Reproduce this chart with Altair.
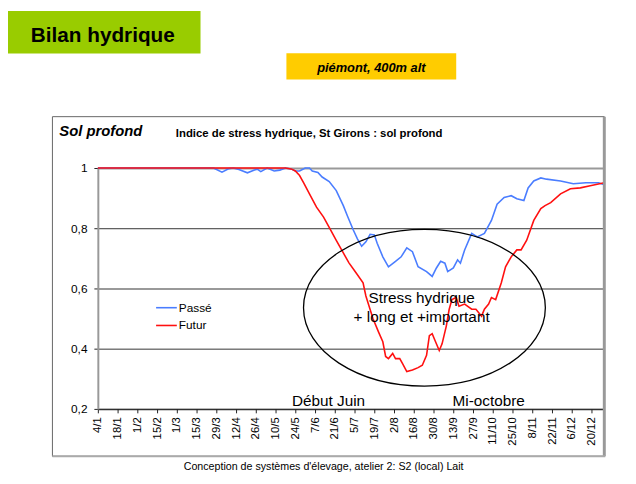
import json
import altair as alt
import pandas as pd

# ---------------- data ----------------
passe_days = [4, 86, 92, 97, 100, 104, 110, 115, 117, 119.5, 124, 129, 133, 137, 141, 144, 147, 151,
              154, 156, 160, 163, 168, 173, 178, 181, 185, 188, 191, 194, 197, 200, 202, 206, 210,
              215, 219, 223, 227, 231, 237, 241, 244, 247, 250, 252, 256, 259, 261, 264, 269, 273,
              278, 283, 287, 292, 297, 301, 306, 309, 313, 318, 322, 332, 341, 350, 359, 363]
passe_vals = [1.0, 1.0, 0.986, 0.998, 1.0, 0.995, 0.984, 0.993, 0.996, 0.988, 1.0, 0.99, 0.993, 1.0,
              0.997, 0.99, 0.99, 1.0, 1.0, 0.99, 0.985, 0.97, 0.955, 0.925, 0.875, 0.84, 0.795,
              0.765, 0.74, 0.755, 0.78, 0.778, 0.75, 0.705, 0.672, 0.69, 0.705, 0.735, 0.722, 0.672,
              0.656, 0.64, 0.668, 0.69, 0.684, 0.656, 0.668, 0.695, 0.684, 0.728, 0.783, 0.771,
              0.783, 0.826, 0.88, 0.902, 0.908, 0.898, 0.892, 0.934, 0.957, 0.967, 0.963, 0.957,
              0.948, 0.951, 0.951, 0.944]

futur_days = [4, 137, 141, 144, 147, 150, 154, 159, 164, 168, 173, 178, 182, 187, 192, 194, 199,
              203, 206, 208, 210, 213, 215, 218, 220, 223, 227, 231, 234, 237, 239, 241, 243, 246,
              248, 251, 253, 255, 258, 260, 264, 269, 272, 276, 278, 281, 283, 286, 290, 293, 297,
              301, 304, 308, 313, 318, 321, 325, 332, 339, 346, 353, 363]
futur_vals = [1.0, 1.0, 0.997, 0.99, 0.975, 0.95, 0.914, 0.87, 0.837, 0.803, 0.76, 0.718, 0.685,
              0.652, 0.619, 0.575, 0.5, 0.455, 0.423, 0.374, 0.367, 0.384, 0.367, 0.367, 0.35,
              0.324, 0.329, 0.337, 0.345, 0.378, 0.443, 0.45, 0.427, 0.394, 0.416, 0.475, 0.53,
              0.563, 0.57, 0.541, 0.548, 0.531, 0.531, 0.508, 0.531, 0.548, 0.57, 0.563, 0.619,
              0.672, 0.705, 0.728, 0.728, 0.76, 0.826, 0.865, 0.875, 0.885, 0.914, 0.931, 0.934,
              0.941, 0.951]

series_names = ["Passé", "Futur"]
series_colors = ["#4a7dff", "#ff1010"]

x_tick_days = [4, 18, 32, 46, 60, 74, 88, 102, 116, 130, 144, 158, 172, 186, 200, 214, 228, 242,
               256, 270, 284, 298, 312, 326, 340, 354]
x_tick_labels = ["4/1", "18/1", "1/2", "15/2", "1/3", "15/3", "29/3", "12/4", "26/4", "10/5",
                 "24/5", "7/6", "21/6", "5/7", "19/7", "2/8", "16/8", "30/8", "13/9", "27/9",
                 "11/10", "25/10", "8/11", "22/11", "6/12", "20/12"]
y_ticks = [0.2, 0.4, 0.6, 0.8, 1.0]

title_text = "Bilan hydrique"
subtitle_text = "piémont, 400m alt"
panel_text = "Sol profond"
chart_title = "Indice de stress hydrique, St Girons : sol profond"
footer_text = "Conception de systèmes d'élevage, atelier 2: S2 (local) Lait"
notes = pd.DataFrame({"day": [167.5, 281], "v": [0.2, 0.2], "t": ["Début Juin", "Mi-octobre"]})
stress = pd.DataFrame({"day": [233.5, 233.5], "v": [0.551, 0.4885],
                       "t": ["Stress hydrique", "+ long et +important"]})
ellipse = pd.DataFrame({"day": [235.5], "v": [0.536]})

df = pd.concat([
    pd.DataFrame({"series": series_names[0], "day": passe_days, "v": passe_vals}),
    pd.DataFrame({"series": series_names[1], "day": futur_days, "v": futur_vals}),
])

FONT = "Liberation Sans, Arial, sans-serif"
W, H = 513, 244
one = pd.DataFrame({"a": [0]})

xscale = alt.Scale(domain=[4, 363], nice=False, zero=False)
yscale = alt.Scale(domain=[0.2, 1.0], nice=False, zero=False)

label_expr = f"{json.dumps(x_tick_labels)}[indexof({json.dumps(x_tick_days)}, datum.value)]"

x_axis = alt.Axis(values=x_tick_days, labelExpr=label_expr, labelAngle=-90, labelFontSize=11.5,
                  labelColor="black", labelFont=FONT, tickColor="#222", tickSize=4,
                  domainColor="#222", grid=False, title=None, labelPadding=4,
                  labelOverlap=False, labelFlush=False, labelBound=False)
y_axis = alt.Axis(values=y_ticks, labelExpr="replace(format(datum.value, '.1~f'), '.', ',')",
                  labelFontSize=12, labelColor="black", labelFont=FONT, tickColor="#222",
                  tickSize=4, domainColor="#999", domainWidth=2, labelPadding=7, title=None,
                  grid=True, labelOverlap=False,
                  gridColor={"condition": {"test": "datum.value == 0.4 || datum.value == 0.8",
                                           "value": "#333"}, "value": "#999"},
                  gridWidth={"condition": {"test": "datum.value == 0.4 || datum.value == 0.8",
                                           "value": 1}, "value": 2})

X = lambda: alt.X("day:Q", scale=xscale, axis=x_axis)
Y = lambda: alt.Y("v:Q", scale=yscale, axis=y_axis)

# decorations
frame = alt.Chart(one).mark_rect(fillOpacity=0, stroke="#666", strokeWidth=1).encode(
    x=alt.value(-46), x2=alt.value(513), y=alt.value(-52), y2=alt.value(292))
frame_r = alt.Chart(one).mark_rule(color="#999", strokeWidth=3).encode(
    x=alt.value(513), y=alt.value(-52), y2=alt.value(292))
frame_b = alt.Chart(one).mark_rule(color="#aaa", strokeWidth=2).encode(
    x=alt.value(-46), x2=alt.value(514), y=alt.value(292))
green = alt.Chart(one).mark_rect(fill="#99cc00").encode(
    x=alt.value(-91), x2=alt.value(104), y=alt.value(-159), y2=alt.value(-116))
yellow = alt.Chart(one).mark_rect(fill="#ffcc00").encode(
    x=alt.value(191), x2=alt.value(363), y=alt.value(-116.3), y2=alt.value(-89.7))

def label(txt, x, y, size, weight="normal", style="normal", align="left", font=FONT):
    return alt.Chart(one).mark_text(text=txt, fontSize=size, fontWeight=weight, fontStyle=style,
                                    align=align, baseline="alphabetic", font=font,
                                    color="black").encode(x=alt.value(x), y=alt.value(y))

t_title = label(title_text, 5, -128, 21, "bold", align="center")
t_sub = label(subtitle_text, 277, -97.7, 13, "bold", "italic", align="center")
t_panel = label(panel_text, -39, -32, 15, "bold", "italic")
t_chart = label(chart_title, 79, -31, 11.5, "bold")
t_footer = label(footer_text, 87, 306, 10.8)

lines = alt.Chart(df).mark_line(strokeWidth=1.6).encode(
    x=X(), y=Y(),
    color=alt.Color("series:N", sort=series_names,
                    scale=alt.Scale(domain=series_names, range=series_colors),
                    legend=alt.Legend(orient="none", legendX=58, legendY=130, title=None,
                                      symbolType="stroke", symbolSize=441,
                                      symbolStrokeWidth=1.6, labelFontSize=12, labelFont=FONT,
                                      labelColor="black", rowPadding=-6, labelOffset=1,
                                      padding=0)),
)

ell = alt.Chart(ellipse).mark_point(
    shape="M -1 0 A 1 0.648 0 1 1 1 0 A 1 0.648 0 1 1 -1 0 Z",
    size=60000, filled=False, stroke="black", strokeWidth=1.3, opacity=1).encode(
    x=X(), y=Y())

notes_t = alt.Chart(notes).mark_text(fontSize=15.5, font=FONT, baseline="alphabetic", dy=-3,
                                     color="black").encode(x=X(), y=Y(), text="t:N")
stress_t = alt.Chart(stress).mark_text(fontSize=15.5, font=FONT, baseline="alphabetic",
                                       color="black").encode(x=X(), y=Y(), text="t:N")

chart = alt.layer(lines, frame, frame_r, frame_b, green, yellow, t_title, t_sub, t_panel,
                  t_chart, t_footer, ell, notes_t, stress_t).properties(
    width=W, height=H,
    padding={"left": 91, "top": 159, "right": 24, "bottom": 73},
    autosize=alt.AutoSizeParams(type="none"),
    background="white",
).configure_view(stroke=None).configure_axisX(labelOverlap=False)

chart.save("out.html", embed_options={"renderer": "svg", "actions": False})
